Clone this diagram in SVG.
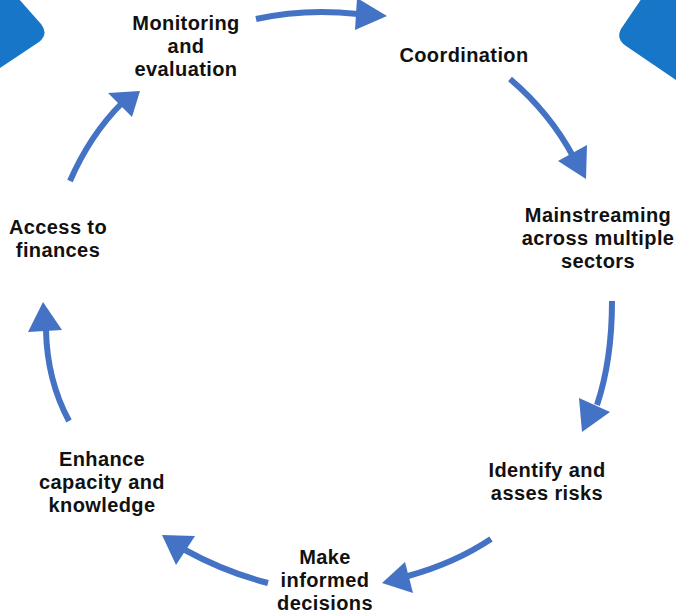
<svg xmlns="http://www.w3.org/2000/svg" width="676" height="613" viewBox="0 0 676 613">
<defs>
<style>
.lbl{font-family:"Liberation Sans",Arial,sans-serif;font-weight:700;font-size:20px;letter-spacing:0.4px;fill:#111;text-anchor:middle}
.shaft{fill:none;stroke:#4472C4;stroke-width:6}
.head{fill:#4472C4}
.corner{fill:#1776C7}
</style>
</defs>
<rect width="676" height="613" fill="#fff"/>
<g id="decor">
<path class="corner" d="M18,-2 L41,24 Q49,34 39,42 L0,68 L-20,-2 Z"/>
<path class="corner" d="M642,-2 L623,26 Q614,38 626,46 L676,80 L700,-2 Z"/>
</g>
<g id="connectors">
<path class="shaft" d="M256,19 Q305,8 358,14"/>
<polygon class="head" points="357,-2 387,16 355,30"/>
<path class="shaft" d="M510,79 Q550,113 574,158"/>
<polygon class="head" points="558,161 587,145 586,179"/>
<path class="shaft" d="M612,301 Q612,360 597,405"/>
<polygon class="head" points="579,398 610,412 582,432"/>
<path class="shaft" d="M491,539 Q455,563 408,576"/>
<polygon class="head" points="382,583 405,562 413,593"/>
<path class="shaft" d="M268,583 Q225,572 185,550"/>
<polygon class="head" points="162,535 195,536 176,565"/>
<path class="shaft" d="M69,421 Q47,380 46,330"/>
<polygon class="head" points="43,302 28,332 62,330"/>
<path class="shaft" d="M70,181 Q90,135 122,103"/>
<polygon class="head" points="108,93 140,91 132,117"/>
</g>
<g id="n-monitoring"><text class="lbl" x="186" y="30">Monitoring</text><text class="lbl" x="186" y="53">and</text><text class="lbl" x="186" y="76">evaluation</text></g>
<g id="n-coordination"><text class="lbl" x="464" y="62">Coordination</text></g>
<g id="n-mainstreaming"><text class="lbl" x="598" y="222">Mainstreaming</text><text class="lbl" x="598" y="245">across multiple</text><text class="lbl" x="598" y="268">sectors</text></g>
<g id="n-identify"><text class="lbl" x="547" y="477">Identify and</text><text class="lbl" x="547" y="500">asses risks</text></g>
<g id="n-decisions"><text class="lbl" x="325" y="564">Make</text><text class="lbl" x="325" y="587">informed</text><text class="lbl" x="325" y="610">decisions</text></g>
<g id="n-capacity"><text class="lbl" x="102" y="466">Enhance</text><text class="lbl" x="102" y="489">capacity and</text><text class="lbl" x="102" y="512">knowledge</text></g>
<g id="n-finances"><text class="lbl" x="58" y="234">Access to</text><text class="lbl" x="58" y="257">finances</text></g>
</svg>
